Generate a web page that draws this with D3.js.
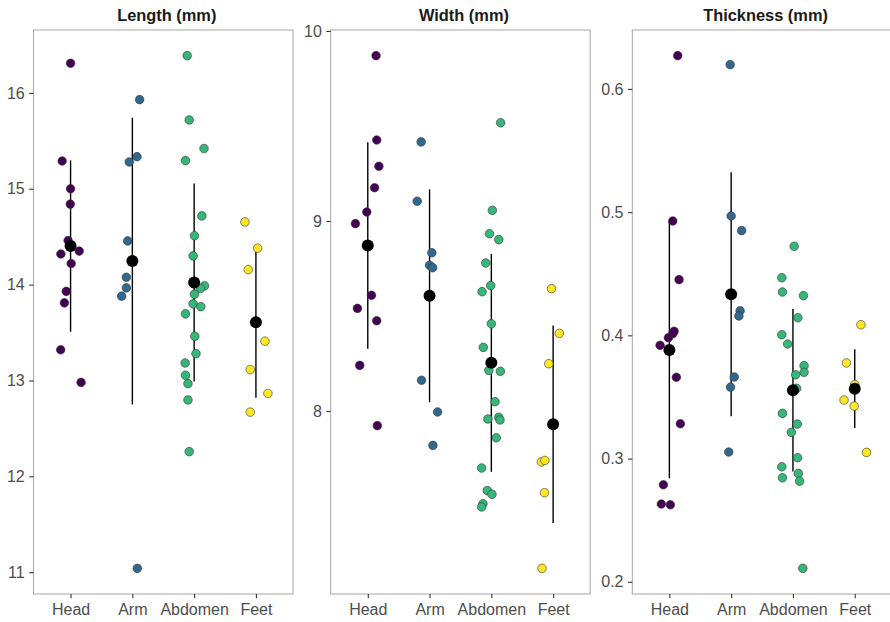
<!DOCTYPE html>
<html>
<head>
<meta charset="utf-8">
<script src="https://cdn.jsdelivr.net/npm/d3@7"></script>
<style>
  body { margin: 0; background: #fff; }
  svg { display: block; font-family: "Liberation Sans", Arial, sans-serif; }
</style>
</head>
<body>
<svg id="chart" width="890" height="622"></svg>
<script>
// categories, colours, panel titles
const parts = ['Head', 'Arm', 'Abdomen', 'Feet'];
const partColors = ['#440154', '#31688E', '#35B779', '#FDE725'];
const titles = ['Length (mm)', 'Width (mm)', 'Thickness (mm)'];

// y tick labels per panel
const lengthTicks = [11, 12, 13, 14, 15, 16];
const widthTicks = [8, 9, 10];
const thicknessTicks = [0.2, 0.3, 0.4, 0.5, 0.6];

const lengthHead = [[16.31, 0], [15.29, -0.136], [15.0, 0], [14.84, -0.005], [14.46, -0.04], [14.32, -0.157],
  [14.35, 0.14], [14.22, 0.01], [13.93, -0.07], [13.81, -0.1], [13.32, -0.16], [12.98, 0.17]];
const lengthArm = [[15.93, 0.118], [15.28, -0.05], [15.335, 0.075], [14.456, -0.076], [14.077, -0.097],
  [13.966, -0.097], [13.88, -0.173], [11.04, 0.08]];
const lengthAbdomen = [[16.389, -0.113], [15.718, -0.08], [15.42, 0.16], [15.294, -0.14], [14.717, 0.125],
  [14.51, 0.005], [14.3, -0.016], [13.987, 0.168], [13.96, 0.1], [13.9, 0.005], [13.8, -0.016], [13.77, 0.108],
  [13.695, -0.14], [13.462, 0.01], [13.28, 0.03], [13.183, -0.146], [13.055, -0.14], [12.967, -0.1],
  [12.797, -0.1], [12.258, -0.08], [14.02, 0]];
const lengthFeet = [[14.654, -0.178], [14.38, 0.027], [14.157, -0.125], [13.41, 0.146], [13.114, -0.092],
  [12.865, 0.194], [12.67, -0.092]];

const widthHead = [[9.87, 0.134], [9.426, 0.145], [9.288, 0.18], [9.175, 0.11], [9.047, -0.016], [8.986, -0.2],
  [8.609, 0.06], [8.54, -0.168], [8.475, 0.145], [8.24, -0.13], [7.923, 0.155], [8.87, 0]];
const widthArm = [[9.416, -0.136], [9.104, -0.2], [8.833, 0.037], [8.767, 0], [8.754, 0.05], [8.162, -0.13],
  [7.995, 0.13], [7.819, 0.054]];
const widthAbdomen = [[9.517, 0.15], [9.056, 0.016], [8.933, -0.03], [8.902, 0.12], [8.779, -0.09], [8.66, -0.01],
  [8.628, -0.15], [8.459, 0], [8.335, -0.13], [8.214, -0.04], [8.209, 0.146], [8.049, 0.06], [7.958, -0.055],
  [7.967, 0.12], [7.953, 0.14], [7.859, 0.08], [7.7, -0.157], [7.581, -0.065], [7.562, 0.01], [7.512, -0.136],
  [7.495, -0.157]];
const widthFeet = [[8.644, -0.026], [8.409, 0.1], [8.249, -0.07], [7.732, -0.19], [7.74, -0.134], [7.57, -0.14],
  [7.172, -0.18]];

const thicknessHead = [[0.627, 0.135], [0.4928, 0.055], [0.4452, 0.157], [0.4033, 0.076], [0.4013, 0.055],
  [0.3981, -0.016], [0.3919, -0.15], [0.366, 0.113], [0.3283, 0.178], [0.2787, -0.097], [0.2631, -0.13],
  [0.2625, 0.016]];
const thicknessArm = [[0.6197, -0.016], [0.4969, 0], [0.485, 0.17], [0.42, 0.145], [0.4157, 0.125],
  [0.3662, 0.05], [0.358, -0.01], [0.3053, -0.04]];
const thicknessAbdomen = [[0.4723, 0.02], [0.4468, -0.18], [0.4352, -0.17], [0.4322, 0.17], [0.4143, 0.08],
  [0.4005, -0.18], [0.393, -0.086], [0.3754, 0.18], [0.37, 0.18], [0.368, 0.044], [0.357, 0.06],
  [0.3367, -0.17], [0.328, 0.07], [0.3213, -0.026], [0.3007, 0.076], [0.2933, -0.18], [0.288, 0.087],
  [0.2844, -0.17], [0.2817, 0.108], [0.2109, 0.16], [0.356, 0]];
const thicknessFeet = [[0.4086, 0.1], [0.3776, -0.134], [0.36, 0], [0.3475, -0.173], [0.3426, -0.01],
  [0.305, 0.19], [0.356, 0]];

const panels = [
  { title: titles[0], ticks: lengthTicks, fmt: d3.format('d'), groups: [lengthHead, lengthArm, lengthAbdomen, lengthFeet] },
  { title: titles[1], ticks: widthTicks, fmt: d3.format('d'), groups: [widthHead, widthArm, widthAbdomen, widthFeet] },
  { title: titles[2], ticks: thicknessTicks, fmt: d3.format('.1f'), groups: [thicknessHead, thicknessArm, thicknessAbdomen, thicknessFeet] },
];

const svg = d3.select('#chart');
const plotTop = 30;
const plotBottom = 594;
const panelWidth = 259.5;
const lefts = [33.5, 330.7, 632.3];

panels.forEach((p, i) => {
  const g = svg.append('g').attr('transform', `translate(${lefts[i]},0)`);

  // discrete x like ggplot: 0.6 units of padding on each side
  const x = d3.scalePoint().domain(parts).range([0, panelWidth]).padding(0.6);

  const all = p.groups.flat().map(d => d[0]);
  const [lo, hi] = d3.extent(all);
  const pad = (hi - lo) * 0.05;
  const y = d3.scaleLinear().domain([lo - pad, hi + pad]).range([plotBottom, plotTop]);

  // panel border
  g.append('rect')
    .attr('x', 0).attr('y', plotTop)
    .attr('width', panelWidth).attr('height', plotBottom - plotTop)
    .attr('fill', 'none').attr('stroke', '#a6a6a6').attr('stroke-width', 1);

  // axes
  const yAxis = g.append('g')
    .call(d3.axisLeft(y).tickValues(p.ticks).tickFormat(p.fmt).tickSize(4.3).tickPadding(4.5));
  yAxis.select('.domain').remove();
  yAxis.selectAll('line').attr('stroke', '#333').attr('stroke-width', 1.1);
  yAxis.selectAll('text').attr('fill', '#4d4d4d').style('font-size', '16px');

  const xAxis = g.append('g').attr('transform', `translate(0,${plotBottom})`)
    .call(d3.axisBottom(x).tickSize(4.3).tickPadding(5.5));
  xAxis.select('.domain').remove();
  xAxis.selectAll('line').attr('stroke', '#333').attr('stroke-width', 1.1);
  xAxis.selectAll('text').attr('fill', '#4d4d4d').style('font-size', '16px');

  // title
  g.append('text')
    .attr('x', panelWidth / 2 + 3.5).attr('y', 20.5)
    .attr('text-anchor', 'middle')
    .attr('fill', '#1a1a1a')
    .style('font-size', '16.4px').style('font-weight', 'bold')
    .text(p.title);

  const summary = p.groups.map((vals, k) => {
    const v = vals.map(d => d[0]);
    const m = d3.mean(v);
    const s = d3.deviation(v);
    return { part: parts[k], mean: m, lo: m - s, hi: m + s };
  });

  // mean +/- sd lines
  g.selectAll('line.sd').data(summary).enter().append('line')
    .attr('class', 'sd')
    .attr('x1', d => x(d.part)).attr('x2', d => x(d.part))
    .attr('y1', d => y(d.lo)).attr('y2', d => y(d.hi))
    .attr('stroke', '#000').attr('stroke-width', 1.4);

  // jittered observations
  const pts = p.groups.flatMap((vals, k) => vals.map(d => ({ part: parts[k], k, v: d[0], j: d[1] })));
  g.selectAll('circle.obs').data(pts).enter().append('circle')
    .attr('class', 'obs')
    .attr('cx', d => x(d.part) + d.j * x.step())
    .attr('cy', d => y(d.v))
    .attr('r', 4.3)
    .attr('fill', d => partColors[d.k])
    .attr('stroke', '#333')
    .attr('stroke-width', 0.6);

  // means
  g.selectAll('circle.mean').data(summary).enter().append('circle')
    .attr('class', 'mean')
    .attr('cx', d => x(d.part))
    .attr('cy', d => y(d.mean))
    .attr('r', 6)
    .attr('fill', '#000');
});
</script>
</body>
</html>
